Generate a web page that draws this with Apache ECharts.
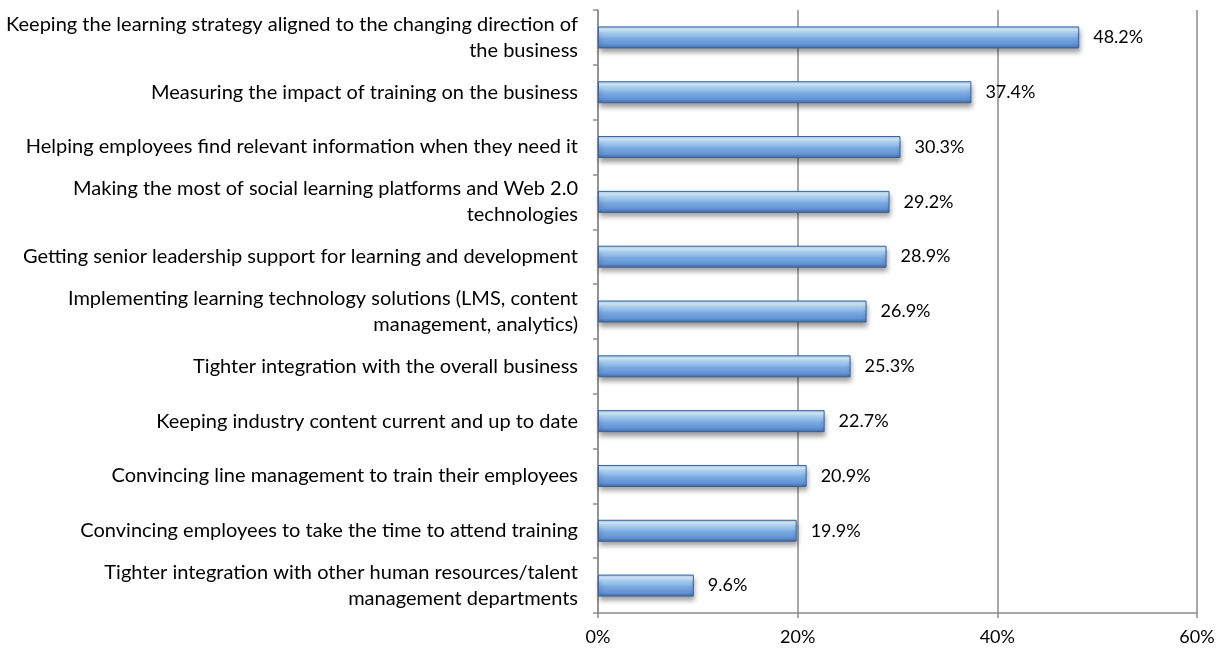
<!DOCTYPE html>
<html><head><meta charset="utf-8">
<script src="https://cdn.jsdelivr.net/npm/echarts@6/dist/echarts.min.js"></script>
<style>html,body{margin:0;padding:0;background:#fff}#c{width:1220px;height:652px}</style>
</head><body><div id="c"></div>
<script>
const categories = [
  "Keeping the learning strategy aligned to the changing direction of\nthe business",
  "Measuring the impact of training on the business",
  "Helping employees find relevant information when they need it",
  "Making the most of social learning platforms and Web 2.0\ntechnologies",
  "Getting senior leadership support for learning and development",
  "Implementing learning technology solutions (LMS, content\nmanagement, analytics)",
  "Tighter integration with the overall business",
  "Keeping industry content current and up to date",
  "Convincing line management to train their employees",
  "Convincing employees to take the time to attend training",
  "Tighter integration with other human resources/talent\nmanagement departments"
];
const values = [48.2, 37.4, 30.3, 29.2, 28.9, 26.9, 25.3, 22.7, 20.9, 19.9, 9.6];
const xTicks = [0, 20, 40, 60];

const chart = echarts.init(document.getElementById('c'));
const font = "Lato, 'Open Sans', sans-serif";
chart.setOption({
  animation: false,
  grid: {left: 598, right: 23, top: 10, bottom: 39, containLabel: false},
  xAxis: {
    type: 'value', min: xTicks[0], max: xTicks[xTicks.length-1], interval: 20,
    axisLine: {show: true, lineStyle: {color: '#8c8c8c', width: 1.5}},
    axisTick: {show: true, length: 5, lineStyle: {color: '#8c8c8c', width: 1.5}},
    splitLine: {show: true, lineStyle: {color: '#8c8c8c', width: 1.5}},
    axisLabel: {formatter: '{value}%', color: '#000', fontSize: 18, fontFamily: font, margin: 15}
  },
  yAxis: {
    type: 'category', data: categories, inverse: true,
    axisLine: {show: true, lineStyle: {color: '#8c8c8c', width: 1.5}},
    axisTick: {show: true, length: 5, alignWithLabel: false, lineStyle: {color: '#8c8c8c', width: 1.5}},
    axisLabel: {color: '#000', fontSize: 20, fontFamily: font, margin: 20, lineHeight: 26, align: 'right'}
  },
  series: [{
    type: 'bar', data: values, barWidth: 22,
    itemStyle: {
      color: new echarts.graphic.LinearGradient(0, 0, 0, 1, [
        {offset: 0, color: '#a0c4ef'},
        {offset: 0.15, color: '#d8f0ff'},
        {offset: 0.32, color: '#a9d0f5'},
        {offset: 0.55, color: '#7aa9e0'},
        {offset: 0.82, color: '#6393d6'},
        {offset: 1, color: '#3c6aa8'}
      ]),
      borderColor: '#3a6296', borderWidth: 1,
      shadowColor: 'rgba(0,0,0,0.4)', shadowBlur: 5, shadowOffsetY: 4, shadowOffsetX: 1
    },
    label: {show: true, position: 'right', distance: 14, formatter: p => p.value.toFixed(1) + '%',
      color: '#000', fontSize: 18, fontFamily: font}
  }]
});
</script></body></html>
